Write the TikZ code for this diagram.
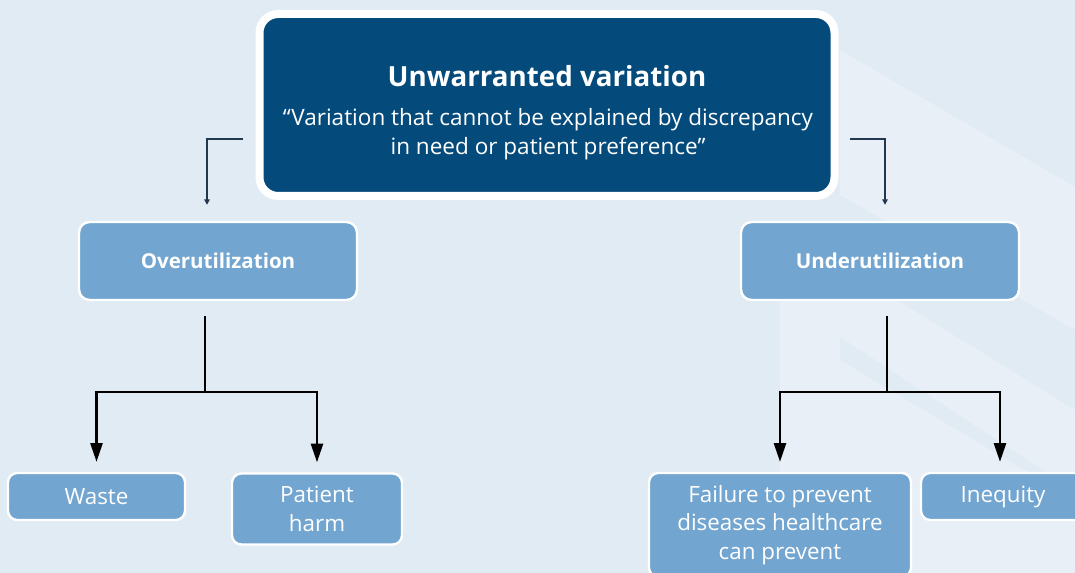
\documentclass[tikz,border=0pt]{standalone}
\usepackage{fontspec}
\setmainfont{Open Sans}
\usetikzlibrary{arrows.meta}
\definecolor{bgblue}{HTML}{E1EBF4}
\definecolor{bglight}{HTML}{E8EFF6}
\definecolor{navy}{HTML}{044B7C}
\definecolor{midblue}{HTML}{72A5D0}
\definecolor{linknavy}{HTML}{22384F}
\tikzset{
  headbox/.style={draw=white, line width=6pt, fill=navy, rounded corners=14pt,
    minimum width=431.25pt, minimum height=136.5pt, text=white, align=center, inner sep=0pt},
  groupbox/.style={draw=white, line width=1.8pt, fill=midblue, rounded corners=8pt,
    minimum width=208.5pt, minimum height=58.5pt, text=white, align=center,
    font=\bfseries\fontsize{15.4}{18}\selectfont, inner sep=0pt},
  leafbox/.style={draw=white, line width=1.8pt, fill=midblue, rounded corners=7pt,
    text=white, align=center, font=\fontsize{16.8}{21.3}\selectfont, inner sep=0pt},
  feed/.style={draw=linknavy, line width=1.1pt, -{Triangle[length=4pt,width=4pt]}},
  tree/.style={draw=black, line width=1.9pt, -{Triangle[length=14pt,width=9pt]}},
  trunk/.style={draw=black, line width=1.9pt},
}
\begin{document}
\begin{tikzpicture}[x=0.75pt, y=-0.75pt]
\useasboundingbox (0,0) rectangle (1075,573);
\clip (0,0) rectangle (1075,573);
% background with faint diagonal bands
\fill[bgblue] (0,0) rectangle (1075,573);
\fill[bglight] (840,50) -- (1075,187) -- (1075,330) -- (840,195) -- cycle;
\fill[bglight] (780,290) -- (897,300) -- (1075,410) -- (1075,573) -- (780,573) -- cycle;
\fill[bgblue] (840,337) -- (1047,473) -- (1075,473) -- (1075,500) -- (840,360) -- cycle;

% head box
\node[headbox] (head) at (547,105) {};
\node[text=white, font=\bfseries\fontsize{20.8}{24}\selectfont] (title) at (547,76) {Unwarranted variation};
\node[text=white, align=center, font=\fontsize{16.9}{21.75}\selectfont] (quote) at (548,134)
  {“Variation that cannot be explained by discrepancy\\in need or patient preference”};

% second level
\node[groupbox] (over) at (218,261) {Overutilization};
\node[groupbox] (under) at (880,261) {Underutilization};

% leaves
\node[leafbox, minimum width=132.75pt, minimum height=35.25pt] (waste) at (96.5,496.5) {Waste};
\node[leafbox, minimum width=127.5pt, minimum height=53.25pt] (harm) at (317,509) {Patient\\harm};
\node[leafbox, minimum width=196.5pt, minimum height=78pt] (fail) at (780,525) {Failure to prevent\\diseases healthcare\\can prevent};
\node[leafbox, minimum width=123pt, minimum height=35.25pt, text width=123pt] (ineq) at (1003,496.5) {Inequity};

% feeds from the head box
\coordinate (lfeed) at (243,139);
\coordinate (rfeed) at (850,139);
\draw[feed] (lfeed) -| ([xshift=-8.25pt,yshift=12pt]over.north);
\draw[feed] (rfeed) -| ([xshift=3.75pt,yshift=12pt]under.north);

% overutilization branches
\draw[trunk] ([xshift=-9.75pt,yshift=-11.25pt]over.south) -- ++(0,76) coordinate (ljoin);
\draw[tree] (ljoin) -| ([yshift=7.5pt]waste.north);
\draw[tree] (ljoin) -| ([yshift=7.5pt]harm.north);

% underutilization branches
\draw[trunk] ([xshift=5.25pt,yshift=-11.25pt]under.south) -- ++(0,76) coordinate (rjoin);
\draw[tree] (rjoin) -| ([yshift=7.5pt]fail.north);
\draw[tree] (rjoin) -| ([xshift=-2.25pt,yshift=7.5pt]ineq.north);
\end{tikzpicture}
\end{document}
